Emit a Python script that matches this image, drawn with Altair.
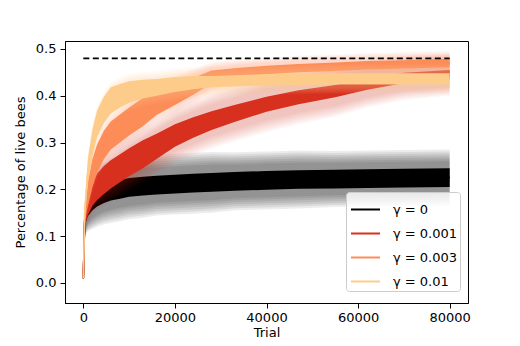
import altair as alt
import pandas as pd

# ---- data ----
trials = [0, 300, 1000, 2000, 3000, 4500, 6000, 8000, 10000, 13000, 16000,
          20000, 24000, 28000, 33000, 40000, 47000, 55000, 62000, 70000, 80000]

labels = ["γ = 0", "γ = 0.001", "γ = 0.003", "γ = 0.01"]
colors = ["#000000", "#d7301f", "#fc8d59", "#fdcc8a"]

mean_g0 = [0.01, 0.13, 0.155, 0.17, 0.18, 0.19, 0.196, 0.2, 0.204, 0.207, 0.209,
           0.211, 0.213, 0.215, 0.217, 0.219, 0.221, 0.222, 0.223, 0.224, 0.225]
mean_g1 = [0.01, 0.135, 0.165, 0.19, 0.205, 0.22, 0.232, 0.245, 0.258, 0.275, 0.292,
           0.315, 0.332, 0.347, 0.362, 0.382, 0.397, 0.41, 0.425, 0.438, 0.445]
mean_g3 = [0.01, 0.14, 0.19, 0.235, 0.265, 0.295, 0.315, 0.33, 0.345, 0.365, 0.385,
           0.402, 0.42, 0.44, 0.448, 0.455, 0.459, 0.462, 0.465, 0.467, 0.47]
mean_g10 = [0.01, 0.15, 0.24, 0.3, 0.34, 0.37, 0.39, 0.4, 0.408, 0.414, 0.418,
            0.424, 0.428, 0.43, 0.432, 0.434, 0.435, 0.436, 0.436, 0.436, 0.436]

# half-width of the noisy trace
noise_g0 = [0.0, 0.008, 0.012, 0.015, 0.017, 0.019, 0.02, 0.02, 0.02, 0.02, 0.02,
            0.02, 0.02, 0.02, 0.02, 0.02, 0.02, 0.02, 0.02, 0.02, 0.02]
noise_g1 = [0.0, 0.01, 0.02, 0.025, 0.028, 0.03, 0.03, 0.03, 0.03, 0.03, 0.027,
            0.024, 0.022, 0.02, 0.018, 0.016, 0.015, 0.013, 0.012, 0.011, 0.01]
noise_g3 = [0.0, 0.01, 0.025, 0.03, 0.03, 0.03, 0.03, 0.03, 0.03, 0.03, 0.026,
            0.022, 0.018, 0.014, 0.011, 0.009, 0.009, 0.009, 0.009, 0.009, 0.009]
noise_g10 = [0.0, 0.01, 0.025, 0.028, 0.028, 0.028, 0.028, 0.025, 0.023, 0.02, 0.018,
             0.016, 0.014, 0.012, 0.012, 0.012, 0.012, 0.012, 0.012, 0.012, 0.012]

# spread (shaded band half-width)
spread_g0 = [0.01, 0.03, 0.045, 0.055, 0.06, 0.065, 0.068, 0.068, 0.068, 0.068, 0.065,
             0.065, 0.065, 0.065, 0.062, 0.062, 0.062, 0.06, 0.06, 0.06, 0.06]
spread_g1 = [0.01, 0.03, 0.04, 0.045, 0.05, 0.055, 0.058, 0.06, 0.06, 0.06, 0.06,
             0.06, 0.06, 0.06, 0.06, 0.06, 0.058, 0.055, 0.05, 0.047, 0.045]
spread_g3 = [0.01, 0.03, 0.04, 0.045, 0.045, 0.045, 0.045, 0.045, 0.045, 0.045, 0.042,
             0.04, 0.037, 0.033, 0.03, 0.027, 0.027, 0.027, 0.027, 0.027, 0.027]
spread_g10 = [0.01, 0.03, 0.04, 0.04, 0.04, 0.04, 0.04, 0.04, 0.04, 0.038, 0.035,
              0.035, 0.034, 0.033, 0.032, 0.032, 0.032, 0.032, 0.032, 0.032, 0.032]

ref_x = [0, 80000]
ref_y = [0.48, 0.48]

x_ticks = [0, 20000, 40000, 60000, 80000]
y_ticks = [0.0, 0.1, 0.2, 0.3, 0.4, 0.5]

means = [mean_g0, mean_g1, mean_g3, mean_g10]
noises = [noise_g0, noise_g1, noise_g3, noise_g10]
spreads = [spread_g0, spread_g1, spread_g3, spread_g10]
band_opacity = [0.075, 0.045, 0.05, 0.055]

FONT = "DejaVu Sans"
xscale = alt.Scale(domain=[-4000, 84000], nice=False, zero=False)
yscale = alt.Scale(domain=[-0.043, 0.517], nice=False, zero=False)
xaxis = alt.Axis(values=x_ticks, format="d", title="Trial", grid=False,
                 tickSize=5, labelPadding=3, titlePadding=2)
yaxis = alt.Axis(values=y_ticks, format=".1f", title="Percentage of live bees",
                 grid=False, tickSize=5, labelPadding=4, titlePadding=8)


def X():
    return alt.X("trial:Q", scale=xscale, axis=xaxis)


def Y(field):
    return alt.Y(f"{field}:Q", scale=yscale, axis=yaxis)


# legend-carrying line layer (drawn first, under everything)
rows = []
for lab, m in zip(labels, means):
    for t, v in zip(trials, m):
        rows.append({"trial": t, "mean": v, "series": lab})
legend_df = pd.DataFrame(rows)
legend_layer = alt.Chart(legend_df).mark_line(strokeWidth=1.5).encode(
    x=X(), y=Y("mean"),
    color=alt.Color("series:N",
                    scale=alt.Scale(domain=labels, range=colors),
                    sort=labels,
                    legend=alt.Legend(
                        title=None, orient="none", legendX=281, legendY=151,
                        symbolType="stroke", symbolSize=841, symbolStrokeWidth=2,
                        labelFont=FONT, labelFontSize=13, labelColor="black",
                        padding=2, rowPadding=1, labelOffset=12, symbolOffset=2,
                        fillColor="rgba(255,255,255,0.8)", strokeColor="#cccccc",
                        cornerRadius=3)),
)

layers = [legend_layer]
fades = [1.0, 0.93, 0.86, 0.79, 0.72, 0.65, 0.58]
for c, m, n, s, op in zip(colors, means, noises, spreads, band_opacity):
    df = pd.DataFrame({"trial": trials, "mean": m})
    for i, k in enumerate(fades):
        df[f"lo{i}"] = [a - k * b for a, b in zip(m, s)]
        df[f"hi{i}"] = [a + k * b for a, b in zip(m, s)]
    df["nlo"] = [a - b for a, b in zip(m, n)]
    df["nhi"] = [a + b for a, b in zip(m, n)]
    base = alt.Chart(df)
    for i in range(len(fades)):
        layers.append(base.mark_area(color=c, opacity=op).encode(
            x=X(), y=Y(f"lo{i}"), y2=f"hi{i}:Q"))
    layers.append(base.mark_area(color=c, opacity=1).encode(
        x=X(), y=Y("nlo"), y2="nhi:Q"))
    layers.append(base.mark_line(color=c, strokeWidth=1.5).encode(
        x=X(), y=Y("mean")))

ref_df = pd.DataFrame({"trial": ref_x, "ref": ref_y})
layers.append(alt.Chart(ref_df).mark_line(color="black", strokeWidth=1.8,
                                          strokeDash=[6, 3.5]).encode(
    x=X(), y=Y("ref")))

chart = alt.layer(*layers).properties(
    width=403, height=262,
    padding={"left": 57, "top": 33, "right": 44, "bottom": 35},
    autosize="none",
).configure_view(stroke="black", strokeWidth=1).configure_axis(
    labelFont=FONT, titleFont=FONT, labelFontSize=13, titleFontSize=13,
    titleFontWeight="normal", labelColor="black", titleColor="black",
    domainColor="black", tickColor="black", domainWidth=1,
).configure_legend(labelFont=FONT)

chart.save("out.html", embed_options={"renderer": "svg", "actions": False})
